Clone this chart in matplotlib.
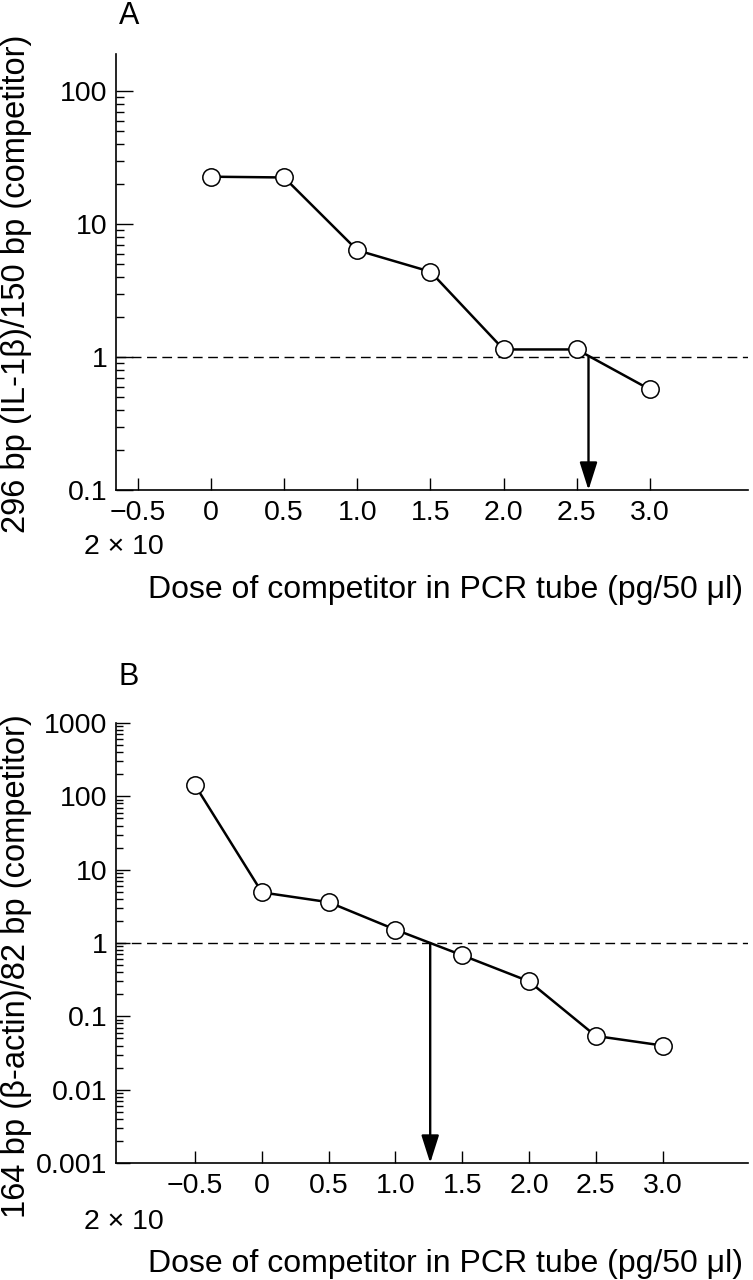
import numpy as np
import matplotlib
matplotlib.use("Agg")
import matplotlib.pyplot as plt
from matplotlib.ticker import LogLocator, NullFormatter

plt.rcParams['font.family'] = ['Liberation Sans', 'DejaVu Sans']

# panel A: IL-1beta / competitor
dose_a = [0, 0.5, 1.0, 1.5, 2.0, 2.5, 3.0]
ratio_a = [22.7, 22.4, 6.35, 4.38, 1.14, 1.14, 0.57]
cross_a = 2.58
yticks_a = [0.1, 1, 10, 100]
ylabels_a = ['0.1', '1', '10', '100']
xticks_a = [-0.5, 0, 0.5, 1.0, 1.5, 2.0, 2.5, 3.0]
xlabels_a = ['\u22120.5', '0', '0.5', '1.0', '1.5', '2.0', '2.5', '3.0']

# panel B: beta-actin / competitor
dose_b = [-0.5, 0, 0.5, 1.0, 1.5, 2.0, 2.5, 3.0]
ratio_b = [141, 4.9, 3.6, 1.52, 0.68, 0.30, 0.054, 0.040]
cross_b = 1.26
yticks_b = [0.001, 0.01, 0.1, 1, 10, 100, 1000]
ylabels_b = ['0.001', '0.01', '0.1', '1', '10', '100', '1000']
xticks_b = xticks_a
xlabels_b = xlabels_a

xlab = 'Dose of competitor in PCR tube (pg/50 \u03bcl)'
ylab_a = '296 bp (IL-1\u03b2)/150 bp (competitor)'
ylab_b = '164 bp (\u03b2-actin)/82 bp (competitor)'

W, H = 753, 1280
fig = plt.figure(figsize=(W / 100, H / 100), dpi=100)


def box(l, t, r, b):
    return [l / W, 1 - b / H, (r - l) / W, (b - t) / H]


def panel(ax, x, y, cross, xt, xl, yt, yl, ylim, xlim, maj, mnr):
    ax.set_yscale('log')
    ax.set_xlim(*xlim)
    ax.set_ylim(*ylim)
    for s in ['top', 'right']:
        ax.spines[s].set_visible(False)
    for s in ['left', 'bottom']:
        ax.spines[s].set_linewidth(1.2)
    ax.axhline(1, color='k', lw=1.0, linestyle=(0, (7, 4)), zorder=1)
    ax.plot(x, y, color='k', lw=1.8, marker='o', ms=12.5, mfc='white',
            mec='k', mew=1.1, zorder=3, clip_on=False)
    ax.annotate('', xy=(cross, ylim[0]), xytext=(cross, 1),
                arrowprops=dict(arrowstyle='-|>,head_length=0.85,head_width=0.27',
                                mutation_scale=20, color='k', lw=1.7,
                                shrinkA=0, shrinkB=0), zorder=2)
    ax.set_xticks(xt)
    ax.set_xticklabels(xl)
    ax.set_yticks(yt)
    ax.set_yticklabels(yl)
    ax.yaxis.set_minor_locator(LogLocator(base=10, subs=np.arange(2, 10), numticks=20))
    ax.yaxis.set_minor_formatter(NullFormatter())
    ax.tick_params(axis='x', direction='in', length=8.6, width=1.0, labelsize=20.5, pad=7)
    ax.tick_params(axis='y', which='major', direction='in', length=maj, width=1.0,
                   labelsize=20.5, pad=6)
    ax.tick_params(axis='y', which='minor', direction='in', length=mnr, width=1.0)


ax_a = fig.add_axes(box(116, 54, 748, 490))
panel(ax_a, dose_a, ratio_a, cross_a, xticks_a, xlabels_a, yticks_a, ylabels_a,
      (0.1, 190), (-0.649, 3.67), 12.2, 5.8)

ax_b = fig.add_axes(box(116, 723, 748, 1163))
panel(ax_b, dose_b, ratio_b, cross_b, xticks_b, xlabels_b, yticks_b, ylabels_b,
      (0.001, 1000), (-1.093, 3.64), 10, 5)

fig.text(129 / W, 1 - 16 / H, 'A', fontsize=22, ha='center', va='center')
fig.text(129 / W, 1 - 677 / H, 'B', fontsize=22, ha='center', va='center')
fig.text(124 / W, 1 - 547 / H, '2 \u00d7 10', fontsize=20.5, ha='center', va='center')
fig.text(124 / W, 1 - 1222 / H, '2 \u00d7 10', fontsize=20.5, ha='center', va='center')
fig.text(446 / W, 1 - 590 / H, xlab, fontsize=23, ha='center', va='center')
fig.text(446 / W, 1 - 1264 / H, xlab, fontsize=23, ha='center', va='center')
fig.text(17 / W, 1 - 284 / H, ylab_a, fontsize=23.5, rotation=90, ha='center', va='center')
fig.text(17 / W, 1 - 966 / H, ylab_b, fontsize=23.5, rotation=90, ha='center', va='center')

fig.savefig('out.png', dpi=100)
